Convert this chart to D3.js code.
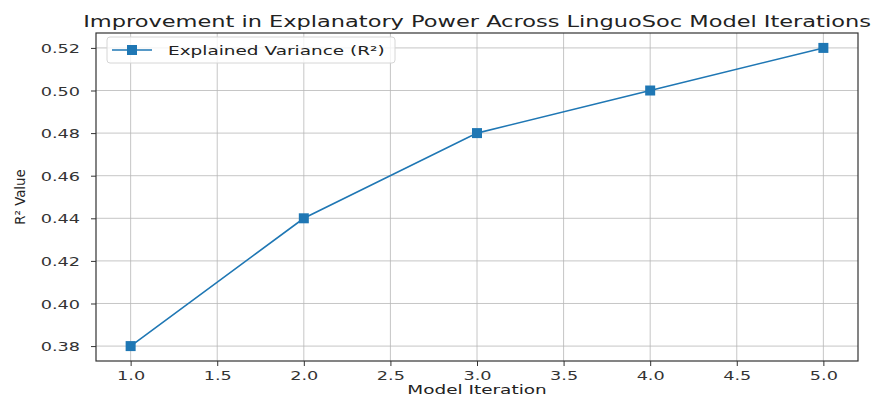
<!DOCTYPE html>
<html>
<head>
<meta charset="utf-8">
<script src="https://cdn.jsdelivr.net/npm/d3@7"></script>
<style>
  body { margin: 0; background: #fff; }
  svg { font-family: "DejaVu Sans", sans-serif; }
</style>
</head>
<body>
<div id="chart"></div>
<script>
// chart data
const iterations = [1, 2, 3, 4, 5];
const r2Values = [0.38, 0.44, 0.48, 0.50, 0.52];
const xTicks = [1.0, 1.5, 2.0, 2.5, 3.0, 3.5, 4.0, 4.5, 5.0];
const yTicks = [0.38, 0.40, 0.42, 0.44, 0.46, 0.48, 0.50, 0.52];
const seriesName = 'Explained Variance (R²)';

const width = 874, height = 397;
const margin = {top: 33, right: 16, bottom: 36, left: 96};
const color = '#1f77b4';
const textColor = '#333';
// the reference text is wide, so glyphs get a horizontal stretch
const stretchX = 1.42;

const svg = d3.select('#chart')
  .append('svg')
  .attr('width', width)
  .attr('height', height);

// matplotlib-style 5% margins
const xPad = (d3.max(iterations) - d3.min(iterations)) * 0.05;
const yPad = (d3.max(r2Values) - d3.min(r2Values)) * 0.05;

const x = d3.scaleLinear()
  .domain([d3.min(iterations) - xPad, d3.max(iterations) + xPad])
  .range([margin.left, width - margin.right]);
const y = d3.scaleLinear()
  .domain([d3.min(r2Values) - yPad, d3.max(r2Values) + yPad])
  .range([height - margin.bottom, margin.top]);

// grid
const grid = svg.append('g');
grid.selectAll('.gx').data(xTicks).enter().append('line')
  .attr('x1', d => x(d)).attr('x2', d => x(d))
  .attr('y1', margin.top).attr('y2', height - margin.bottom)
  .attr('stroke', '#b8b8b8').attr('stroke-width', 0.8);
grid.selectAll('.gy').data(yTicks).enter().append('line')
  .attr('x1', margin.left).attr('x2', width - margin.right)
  .attr('y1', d => y(d)).attr('y2', d => y(d))
  .attr('stroke', '#b8b8b8').attr('stroke-width', 0.8);

// axes
const xAxis = svg.append('g')
  .attr('transform', `translate(0,${height - margin.bottom})`)
  .call(d3.axisBottom(x).tickValues(xTicks).tickFormat(d3.format('.1f')).tickSize(5).tickSizeOuter(0));
const yAxis = svg.append('g')
  .attr('transform', `translate(${margin.left},0)`)
  .call(d3.axisLeft(y).tickValues(yTicks).tickFormat(d3.format('.2f')).tickSize(5).tickSizeOuter(0));

[xAxis, yAxis].forEach(a => {
  a.select('.domain').remove();
  a.selectAll('.tick line').attr('stroke', textColor);
  a.selectAll('.tick text')
    .attr('fill', textColor)
    .style('font-size', '13px')
    .style('font-family', '"DejaVu Sans", sans-serif');
});
xAxis.selectAll('.tick text')
  .attr('y', 0).attr('dy', 0)
  .attr('transform', `translate(0,19) scale(1.36,1)`);
yAxis.selectAll('.tick text')
  .attr('x', 0).attr('dy', '0.35em')
  .attr('transform', `translate(-16,0) scale(1.36,1)`);

// frame
svg.append('rect')
  .attr('x', margin.left).attr('y', margin.top)
  .attr('width', width - margin.left - margin.right)
  .attr('height', height - margin.top - margin.bottom)
  .attr('fill', 'none').attr('stroke', textColor).attr('stroke-width', 1.2);

// series line
const line = d3.line()
  .x((d, i) => x(iterations[i]))
  .y(d => y(d));

svg.append('path')
  .datum(r2Values)
  .attr('d', line)
  .attr('fill', 'none')
  .attr('stroke', color)
  .attr('stroke-width', 1.6);

svg.selectAll('.marker')
  .data(r2Values)
  .enter().append('rect')
  .attr('x', (d, i) => x(iterations[i]) - 5)
  .attr('y', d => y(d) - 5)
  .attr('width', 10)
  .attr('height', 10)
  .attr('fill', color);

// title and axis labels
const midX = (margin.left + width - margin.right) / 2;
svg.append('text')
  .attr('transform', `translate(${midX},27) scale(1.405,1)`)
  .attr('text-anchor', 'middle')
  .style('font-size', '16px')
  .attr('fill', '#222')
  .text('Improvement in Explanatory Power Across LinguoSoc Model Iterations');

svg.append('text')
  .attr('transform', `translate(${midX},394) scale(${stretchX},1)`)
  .attr('text-anchor', 'middle')
  .style('font-size', '13px')
  .attr('fill', '#222')
  .text('Model Iteration');

svg.append('text')
  .attr('transform', `translate(25,${(margin.top + height - margin.bottom) / 2}) rotate(-90) scale(0.95,1)`)
  .attr('text-anchor', 'middle')
  .style('font-size', '14px')
  .attr('fill', '#222')
  .text('R² Value');

// legend
const leg = svg.append('g').attr('transform', 'translate(107,37)');
leg.append('rect')
  .attr('width', 288).attr('height', 26).attr('rx', 3)
  .attr('fill', '#fff').attr('fill-opacity', 0.8)
  .attr('stroke', '#d6d6d6');
leg.append('line')
  .attr('x1', 5).attr('x2', 45).attr('y1', 13).attr('y2', 13)
  .attr('stroke', color).attr('stroke-width', 1.6);
leg.append('rect')
  .attr('x', 20).attr('y', 8).attr('width', 10).attr('height', 10)
  .attr('fill', color);
leg.append('text')
  .attr('transform', `translate(61,17.5) scale(${stretchX},1)`)
  .style('font-size', '13px')
  .attr('fill', '#222')
  .text(seriesName);
</script>
</body>
</html>
